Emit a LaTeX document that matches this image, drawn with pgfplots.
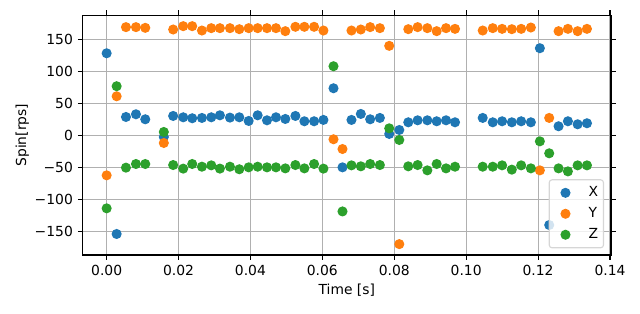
\documentclass[border=0pt]{standalone}
\usepackage{fontspec}
\setmainfont{DejaVu Sans}
\usepackage{pgfplots}
\pgfplotsset{compat=1.18}
\definecolor{c0}{HTML}{1F77B4}
\definecolor{c1}{HTML}{FF7F0E}
\definecolor{c2}{HTML}{2CA02C}
\definecolor{gridc}{HTML}{B0B0B0}
\definecolor{legc}{HTML}{D6D6D6}
\begin{document}
\begin{tikzpicture}
\useasboundingbox (-59.5bp,-41.8bp) rectangle (401.3bp,183.6bp);
\begin{axis}[
  at={(0,0)}, anchor=south west,
  scale only axis, width=380.4bp, height=172.6bp,
  xmin=-0.00668, xmax=0.14028, ymin=-186.8, ymax=187.3,
  xtick={0,0.02,0.04,0.06,0.08,0.1,0.12,0.14},
  xticklabels={0.00,0.02,0.04,0.06,0.08,0.10,0.12,0.14},
  ytick={-150,-100,-50,0,50,100,150},
  yticklabels={−150,−100,−50,0,50,100,150},
  tick align=outside, major tick length=3.5bp,
  tick style={black, line width=0.8bp},
  axis line style={black, line width=0.8bp},
  xmajorgrids, ymajorgrids,
  major grid style={gridc, line width=0.8bp},
  ticklabel style={font=\fontsize{10bp}{12bp}\selectfont},
  xlabel={Time [s]}, ylabel={Spin[rps]},
  label style={font=\fontsize{10bp}{12bp}\selectfont},
  every axis y label/.style={at={(axis description cs:0,0.5)}, xshift=-43.4bp, rotate=90, anchor=center},
  every axis x label/.style={at={(axis description cs:0.5,0)}, yshift=-25.5bp, anchor=center},
  legend image code/.code={%
    \path[draw=none, fill=none] (0bp,-3.5bp) rectangle (24.6bp,3.5bp);
    \draw[opacity=1, mark repeat=2,mark phase=2,#1] plot coordinates {(0bp,0bp) (9.4bp,0bp) (18.8bp,0bp)};},
  legend style={at={(axis description cs:0.98686,0.0278)}, anchor=south east,
    draw=legc, line width=0.8bp, fill=white, fill opacity=0.8, draw opacity=1, text opacity=1,
    rounded corners=2bp, inner xsep=2.3bp, inner ysep=3.5bp, row sep=3.3bp,
    nodes={inner sep=1.5bp}, font=\fontsize{10bp}{12bp}\selectfont},
  legend cell align=left,
]
\addplot[only marks, mark=*, color=c0, mark size=3.1bp, mark options={draw=c0, fill=c0, line width=1bp}] coordinates {
(0,128) (0.00278,-154) (0.00537,28.6) (0.00815,32.8) (0.01074,25) (0.0159,-2.6)
(0.0185,30.2) (0.0213,28.1) (0.0238,26.6) (0.0265,27.1) (0.0291,28.1) (0.0315,31.2)
(0.0343,27.6) (0.0369,28.1) (0.0395,22.4) (0.042,31.2) (0.0446,23.4) (0.0471,28.1)
(0.0497,25.5) (0.0525,30.2) (0.055,21.9) (0.0577,21.9) (0.0603,24) (0.0631,73.4)
(0.0656,-50) (0.0681,24) (0.0707,33.3) (0.0733,25) (0.076,27.1) (0.0786,2.1)
(0.0814,8.3) (0.0839,20.3) (0.0865,23.4) (0.0892,23.4) (0.0918,21.9) (0.0944,23.4)
(0.0969,20.3) (0.1046,27.1) (0.1074,20.3) (0.11,21.9) (0.1127,20.3) (0.1153,21.9)
(0.118,20.3) (0.1205,135.9) (0.1231,-140) (0.1257,14.1) (0.1283,21.9) (0.131,17.2)
(0.1336,18.8)
};
\addlegendentry{X}
\addplot[only marks, mark=*, color=c1, mark size=3.1bp, mark options={draw=c1, fill=c1, line width=1bp}] coordinates {
(0,-62.5) (0.00278,60.9) (0.00537,168.8) (0.00815,168.8) (0.01074,167.7) (0.0159,-12)
(0.0185,165.1) (0.0213,170.3) (0.0238,170.3) (0.0265,163.5) (0.0291,167.2) (0.0315,167.2)
(0.0343,167.2) (0.0369,165.6) (0.0395,167.2) (0.042,167.2) (0.0446,167.2) (0.0471,167.2)
(0.0497,162.5) (0.0525,169.3) (0.055,169.3) (0.0577,169.3) (0.0603,163.5) (0.0631,-6.2)
(0.0656,-21.4) (0.0681,163.5) (0.0707,165.1) (0.0733,168.8) (0.076,167.2) (0.0786,139.6)
(0.0814,-169.8) (0.0839,165.6) (0.0865,168.8) (0.0892,167.2) (0.0918,162.5) (0.0944,167.2)
(0.0969,166.1) (0.1046,163.5) (0.1074,167.2) (0.11,166.1) (0.1127,165.6) (0.1153,166.1)
(0.118,168.2) (0.1205,-54.7) (0.1231,27.1) (0.1257,162.5) (0.1283,166.1) (0.131,162.5)
(0.1336,166.1)
};
\addlegendentry{Y}
\addplot[only marks, mark=*, color=c2, mark size=3.1bp, mark options={draw=c2, fill=c2, line width=1bp}] coordinates {
(0,-114) (0.00278,76.6) (0.00537,-50.5) (0.00815,-44.8) (0.01074,-44.8) (0.0159,5.2)
(0.0185,-46.4) (0.0213,-52) (0.0238,-44.8) (0.0265,-49) (0.0291,-46.9) (0.0315,-52)
(0.0343,-49) (0.0369,-53) (0.0395,-50) (0.042,-49) (0.0446,-50) (0.0471,-50)
(0.0497,-51.6) (0.0525,-46.4) (0.055,-51.6) (0.0577,-44.8) (0.0603,-52) (0.0631,107.8)
(0.0656,-118.8) (0.0681,-46.9) (0.0707,-48.4) (0.0733,-44.8) (0.076,-46.4) (0.0786,10.9)
(0.0814,-7.3) (0.0839,-48.4) (0.0865,-46.4) (0.0892,-54.7) (0.0918,-44.8) (0.0944,-51.6)
(0.0969,-49) (0.1046,-49) (0.1074,-49) (0.11,-46.9) (0.1127,-53.6) (0.1153,-46.9)
(0.118,-51.6) (0.1205,-9.4) (0.1231,-28.1) (0.1257,-51.6) (0.1283,-56.3) (0.131,-46.9)
(0.1336,-46.9)
};
\addlegendentry{Z}
\end{axis}
\end{tikzpicture}
\end{document}
